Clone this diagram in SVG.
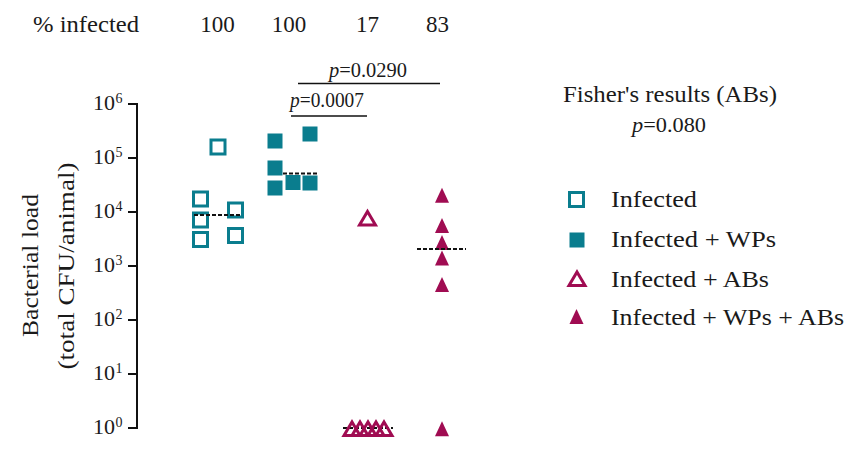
<svg xmlns="http://www.w3.org/2000/svg" width="847" height="453" viewBox="0 0 847 453">
<style>
text{font-family:"Liberation Serif","Times New Roman",serif;fill:#1a1a1a}
.t23{font-size:23px}
.t22{font-size:22px}
.sup{font-size:14px}
.p{font-size:20px}
.ax{stroke:#111;stroke-width:2;fill:none}
.med{stroke:#111;stroke-width:2;stroke-dasharray:4 2;fill:none}
.sig{stroke:#111;stroke-width:1.5;fill:none}
.teal{fill:#0a7d8e}
.tealo{fill:none;stroke:#0a7d8e;stroke-width:3}
.mag{fill:#a00c52}
.mago{fill:none;stroke:#a00c52;stroke-width:3;stroke-linejoin:miter}
</style>
<defs>
<rect id="osq" class="tealo" x="-7" y="-7" width="14" height="14"/>
<rect id="fsq" class="teal" x="-7.5" y="-7.5" width="15" height="15"/>
<polygon id="otri" class="mago" points="0,-7 8,6.5 -8,6.5"/>
<polygon id="ftri" class="mag" points="0,-7.5 7,7.5 -7,7.5"/>
</defs>

<g id="header">
<text class="t23" x="33" y="31.5" textLength="106" lengthAdjust="spacingAndGlyphs">% infected</text>
<text class="t23" x="217.5" y="31.5" text-anchor="middle">100</text>
<text class="t23" x="289" y="31.5" text-anchor="middle">100</text>
<text class="t23" x="367.5" y="31.5" text-anchor="middle">17</text>
<text class="t23" x="437.5" y="31.5" text-anchor="middle">83</text>
</g>

<g id="y-axis">
<path class="ax" d="M137,103 V429 M128,104 H137 M128,158 H137 M128,212 H137 M128,266 H137 M128,320 H137 M128,374 H137 M128,428 H137"/>
<text class="t22" x="115" y="110" text-anchor="end">10</text><text class="sup" x="115.5" y="103">6</text>
<text class="t22" x="115" y="164" text-anchor="end">10</text><text class="sup" x="115.5" y="157">5</text>
<text class="t22" x="115" y="218" text-anchor="end">10</text><text class="sup" x="115.5" y="211">4</text>
<text class="t22" x="115" y="272" text-anchor="end">10</text><text class="sup" x="115.5" y="265">3</text>
<text class="t22" x="115" y="326" text-anchor="end">10</text><text class="sup" x="115.5" y="319">2</text>
<text class="t22" x="115" y="380" text-anchor="end">10</text><text class="sup" x="115.5" y="373">1</text>
<text class="t22" x="115" y="434" text-anchor="end">10</text><text class="sup" x="115.5" y="427">0</text>
<text class="t23" text-anchor="middle" transform="translate(38,265.5) rotate(-90)" textLength="143" lengthAdjust="spacingAndGlyphs">Bacterial load</text>
<text class="t23" text-anchor="middle" transform="translate(73.5,266) rotate(-90)" textLength="207" lengthAdjust="spacingAndGlyphs">(total CFU/animal)</text>
</g>

<g id="group-infected">
<use href="#osq" x="218" y="147"/>
<use href="#osq" x="200.5" y="199"/>
<use href="#osq" x="200.5" y="220"/>
<use href="#osq" x="200.5" y="239.5"/>
<use href="#osq" x="235.5" y="210"/>
<use href="#osq" x="235.5" y="235.5"/>
<line class="med" x1="194" y1="215" x2="242" y2="215"/>
</g>

<g id="group-infected-wps">
<use href="#fsq" x="275" y="141"/>
<use href="#fsq" x="310" y="134"/>
<use href="#fsq" x="275" y="168"/>
<use href="#fsq" x="275" y="188"/>
<use href="#fsq" x="293" y="182.5"/>
<use href="#fsq" x="310" y="183"/>
<line class="med" x1="283" y1="173.5" x2="317" y2="173.5"/>
</g>

<g id="group-infected-abs">
<use href="#otri" x="367.5" y="218.5"/>
<line class="med" x1="343" y1="428" x2="393" y2="428"/>
<use href="#otri" x="352" y="429"/>
<use href="#otri" x="360" y="429"/>
<use href="#otri" x="368" y="429"/>
<use href="#otri" x="376" y="429"/>
<use href="#otri" x="384" y="429"/>
</g>

<g id="group-infected-wps-abs">
<use href="#ftri" x="442" y="195.3"/>
<use href="#ftri" x="442" y="225.5"/>
<use href="#ftri" x="442" y="242.5"/>
<use href="#ftri" x="442" y="258"/>
<use href="#ftri" x="442" y="284.5"/>
<use href="#ftri" x="442" y="428.7"/>
<line class="med" x1="417" y1="249" x2="466" y2="249"/>
</g>

<g id="connectors">
<line class="sig" x1="298" y1="83.5" x2="440" y2="83.5"/>
<line class="sig" x1="291" y1="116" x2="367" y2="116"/>
</g>
<g id="p-labels">
<text class="p" x="368" y="77" text-anchor="middle" textLength="78" lengthAdjust="spacingAndGlyphs"><tspan font-style="italic">p</tspan>=0.0290</text>
<text class="p" x="327" y="106.5" text-anchor="middle" textLength="74" lengthAdjust="spacingAndGlyphs"><tspan font-style="italic">p</tspan>=0.0007</text>
</g>

<g id="fisher">
<text class="t23" x="670" y="102" text-anchor="middle" textLength="214" lengthAdjust="spacingAndGlyphs">Fisher's results (ABs)</text>
<text class="t22" x="669" y="132" text-anchor="middle" textLength="74" lengthAdjust="spacingAndGlyphs"><tspan font-style="italic">p</tspan>=0.080</text>
</g>

<g id="legend">
<use href="#osq" x="576.5" y="199.5"/>
<text class="t23" x="611" y="206.7" textLength="86" lengthAdjust="spacingAndGlyphs">Infected</text>
<use href="#fsq" x="577" y="240"/>
<text class="t23" x="611" y="246.7" textLength="165" lengthAdjust="spacingAndGlyphs">Infected + WPs</text>
<use href="#otri" x="577" y="279"/>
<text class="t23" x="611" y="286.7" textLength="158" lengthAdjust="spacingAndGlyphs">Infected + ABs</text>
<use href="#ftri" x="576.5" y="316.5"/>
<text class="t23" x="611" y="325" textLength="233" lengthAdjust="spacingAndGlyphs">Infected + WPs + ABs</text>
</g>
</svg>
